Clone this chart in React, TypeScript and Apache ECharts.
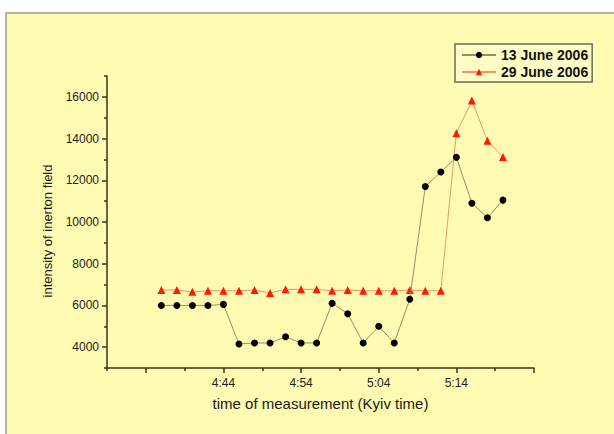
import React, { useEffect, useRef } from "react";
import * as echarts from "echarts";

// Measurement times (Kyiv time)
const times = [
  "4:36", "4:38", "4:40", "4:42", "4:44", "4:46", "4:48", "4:50", "4:52", "4:54", "4:56", "4:58",
  "5:00", "5:02", "5:04", "5:06", "5:08", "5:10", "5:12", "5:14", "5:16", "5:18", "5:20",
];
const june13 = [
  6000, 6000, 6000, 6000, 6050, 4150, 4200, 4200, 4500, 4200, 4200, 6100,
  5600, 4200, 5000, 4200, 6300, 11700, 12400, 13100, 10900, 10200, 11050,
];
const june29 = [
  6740, 6740, 6650, 6700, 6700, 6700, 6740, 6600, 6770, 6770, 6770, 6700,
  6740, 6700, 6700, 6700, 6740, 6700, 6700, 14260, 15820, 13900, 13120,
];
const seriesNames = ["13 June 2006", "29 June 2006"];
const xLabelTimes = ["4:44", "4:54", "5:04", "5:14"];
const xMajorTimes = ["4:34", "4:44", "4:54", "5:04", "5:14", "5:24"];
const xMinorTimes = ["4:29", "4:39", "4:49", "4:59", "5:09", "5:19"];
const xRange = ["4:29", "5:24"];
const yMajor = [4000, 6000, 8000, 10000, 12000, 14000, 16000];
const yMinor = [3000, 5000, 7000, 9000, 11000, 13000, 15000, 17000];
const yRange = [3000, 17000];

const BASE = 4 * 60 + 4; // minutes offset so axis values are integers
const toVal = (t: string) => {
  const [h, m] = t.split(":").map(Number);
  return h * 60 + m - BASE;
};
const toTime = (v: number) => {
  const total = Math.round(v) + BASE;
  const h = Math.floor(total / 60);
  const m = total % 60;
  return `${h}:${m < 10 ? "0" + m : m}`;
};

const FONT = "Liberation Sans, Arial, sans-serif";
const AXIS_COLOR = "#3a3418";

export default function App() {
  const ref = useRef<HTMLDivElement>(null);
  useEffect(() => {
    if (!ref.current) return;
    const chart = echarts.init(ref.current, null, { renderer: "svg" });
    const xMin = toVal(xRange[0]);
    const xMax = toVal(xRange[1]);
    const baseX = {
      type: "value" as const,
      min: xMin,
      max: xMax,
      position: "bottom" as const,
      splitLine: { show: false },
    };
    const baseY = {
      type: "value" as const,
      min: yRange[0],
      max: yRange[1],
      position: "left" as const,
      splitLine: { show: false },
    };
    chart.setOption({
      animation: false,
      backgroundColor: "#ffffff",
      textStyle: { fontFamily: FONT },
      graphic: [
        {
          type: "rect",
          z: -100,
          silent: true,
          shape: { x: 6, y: 13, width: 650, height: 460 },
          style: { fill: "#fffbb2", stroke: "#9d9d86", lineWidth: 1.5 },
        },
        {
          type: "text",
          x: 47,
          y: 231,
          rotation: Math.PI / 2,
          style: {
            text: "intensity of inerton field",
            fontFamily: FONT,
            fontSize: 13,
            fill: "#1a1a1a",
            textAlign: "center",
            textVerticalAlign: "middle",
          },
        },
      ],
      grid: { left: 107, top: 76, right: 80, bottom: 66, containLabel: false },
      legend: {
        orient: "vertical",
        left: 455,
        top: 44,
        padding: [4, 4, 3, 6],
        itemGap: 3,
        itemWidth: 34,
        itemHeight: 8,
        backgroundColor: "rgba(255,255,240,0.3)",
        borderColor: "#6b6b55",
        borderWidth: 1.5,
        borderRadius: 0,
        textStyle: { fontFamily: FONT, fontSize: 14, fontWeight: 600, color: "#111" },
        data: seriesNames,
      },
      xAxis: [
        {
          ...baseX,
          name: "time of measurement (Kyiv time)",
          nameLocation: "middle",
          nameGap: 28,
          nameTextStyle: { fontFamily: FONT, fontSize: 15, color: "#1a1a1a" },
          axisLine: { show: true, lineStyle: { color: AXIS_COLOR, width: 1.5 } },
          axisTick: {
            show: true,
            length: 5,
            customValues: xMajorTimes.map(toVal),
            lineStyle: { color: AXIS_COLOR, width: 1.5 },
          },
          axisLabel: {
            show: true,
            customValues: xLabelTimes.map(toVal),
            formatter: (v: number) => toTime(v),
            fontFamily: FONT,
            fontSize: 12,
            color: "#222",
            margin: 9,
          },
        },
        {
          ...baseX,
          axisLine: { show: false },
          axisLabel: { show: false },
          axisTick: {
            show: true,
            length: 3,
            customValues: xMinorTimes.map(toVal),
            lineStyle: { color: AXIS_COLOR, width: 1.5 },
          },
        },
      ],
      yAxis: [
        {
          ...baseY,
          axisLine: { show: true, lineStyle: { color: AXIS_COLOR, width: 1.5 } },
          axisTick: {
            show: true,
            length: 5,
            customValues: yMajor,
            lineStyle: { color: AXIS_COLOR, width: 1.5 },
          },
          axisLabel: {
            show: true,
            customValues: yMajor,
            formatter: (v: number) => String(v),
            fontFamily: FONT,
            fontSize: 12,
            color: "#222",
            margin: 8,
          },
        },
        {
          ...baseY,
          axisLine: { show: false },
          axisLabel: { show: false },
          axisTick: {
            show: true,
            length: 3,
            customValues: yMinor,
            lineStyle: { color: AXIS_COLOR, width: 1.5 },
          },
        },
      ],
      series: [
        {
          name: seriesNames[0],
          type: "line",
          xAxisIndex: 0,
          yAxisIndex: 0,
          data: times.map((t, i) => [toVal(t), june13[i]]),
          symbol: "circle",
          symbolSize: 7,
          itemStyle: { color: "#000000" },
          lineStyle: { color: "#8e9266", width: 1 },
          z: 3,
        },
        {
          name: seriesNames[1],
          type: "line",
          xAxisIndex: 0,
          yAxisIndex: 0,
          data: times.map((t, i) => [toVal(t), june29[i]]),
          symbol: "triangle",
          symbolSize: 8,
          itemStyle: { color: "#ff1a00" },
          lineStyle: { color: "#f29468", width: 1 },
          z: 2,
        },
      ],
    });
    return () => chart.dispose();
  }, []);
  return (
    <div
      ref={ref}
      style={{ position: "absolute", left: 0, top: 0, width: 614, height: 434 }}
    />
  );
}
